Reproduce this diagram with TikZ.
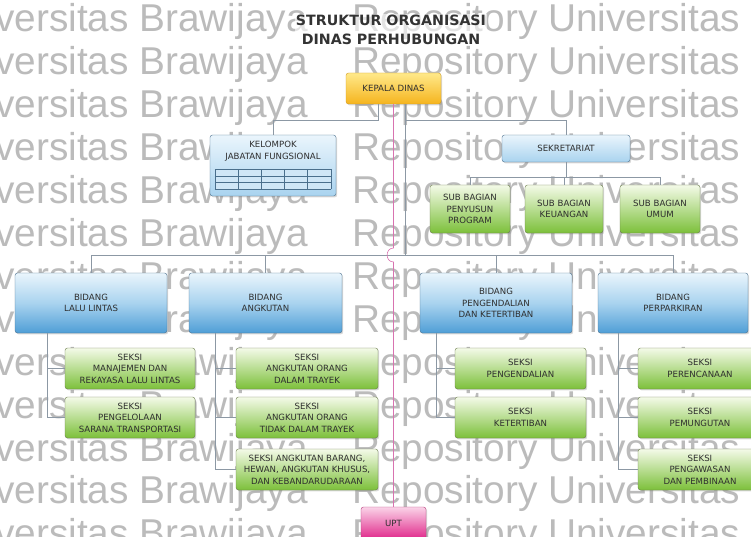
\documentclass[tikz,border=0pt]{standalone}
\usepackage{fontspec}
\setmainfont{DejaVu Sans}
\newfontfamily\wmfont{Liberation Sans}
\usetikzlibrary{shadows}

\definecolor{wmgray}{HTML}{BBBBBB}
\definecolor{linkgray}{HTML}{8C98A4}
\definecolor{pinkline}{HTML}{D873B0}
\definecolor{goldtop}{HTML}{FFE98A}
\definecolor{goldbot}{HTML}{F5B41E}
\definecolor{golddraw}{HTML}{D19A22}
\definecolor{bluetop}{HTML}{EAF5FC}
\definecolor{bluemid}{HTML}{A9D3EF}
\definecolor{bluebot}{HTML}{4F9ED6}
\definecolor{bluedraw}{HTML}{4A6F8C}
\definecolor{greentop}{HTML}{F4FAE8}
\definecolor{greenbot}{HTML}{7CC03A}
\definecolor{greendraw}{HTML}{687A4A}
\definecolor{pinktop}{HTML}{FAD3E8}
\definecolor{pinkbot}{HTML}{E0288A}
\definecolor{pinkdraw}{HTML}{B43A78}
\definecolor{boxtext}{HTML}{2E2E2E}
\definecolor{tblfill}{HTML}{CFE6F6}

\newcommand{\boxfont}{\fontsize{8.6}{11.5}\selectfont}

\begin{document}
\begin{tikzpicture}[
  x=1pt, y=-1pt,
  every node/.style={text=boxtext},
  orgbox/.style={rectangle, rounded corners=2.5pt, align=center, inner sep=2pt,
                 font=\boxfont,
                 drop shadow={opacity=0.3, shadow xshift=1.2pt, shadow yshift=-1.4pt}},
  chief/.style={orgbox, draw=golddraw, top color=goldtop, bottom color=goldbot},
  unit/.style={orgbox, draw=bluedraw, top color=bluetop, bottom color=bluemid},
  field/.style={orgbox, draw=bluedraw, top color=bluetop, bottom color=bluebot,
                middle color=bluemid},
  sect/.style={orgbox, draw=greendraw, top color=greentop, bottom color=greenbot},
  pinkbox/.style={orgbox, draw=pinkdraw, top color=pinktop, bottom color=pinkbot},
  link/.style={draw=linkgray, line width=0.8pt},
  pinkln/.style={draw=pinkline, line width=0.6pt},
  tblline/.style={draw=bluedraw, line width=0.5pt},
  wm/.style={text=wmgray, font=\wmfont\fontsize{38.8}{40}\selectfont, inner sep=0pt}]
\useasboundingbox (0,0) rectangle (751,537);
\clip (0,0) rectangle (751,537);

% watermark rows
\foreach \k in {0,...,12}{
  \node[wm, anchor=base east] (wl\k) at (308,32+42.9*\k) {Universitas Brawijaya};
  \node[wm, anchor=base west] (wr\k) at (352,32+42.9*\k) {Repository Universitas};
}

\node[font=\bfseries\fontsize{14.2}{19}\selectfont, align=center, text=black!80,
      fill=white, fill opacity=0.6, text opacity=1, inner sep=1pt]
  (title) at (391,29.5) {STRUKTUR ORGANISASI\\DINAS PERHUBUNGAN};

% top levels
\node[chief, minimum width=95pt, minimum height=31pt] (kepala) at (393.5,88.5) {KEPALA DINAS};
\node[unit, minimum width=126pt, minimum height=61pt,
      label={[name=kjf, anchor=north, yshift=-3pt, align=center, font=\boxfont]north:KELOMPOK\\JABATAN FUNGSIONAL}]
  (kelompok) at (273,165.5) {};
\node[unit, minimum width=128pt, minimum height=27pt] (sekretariat) at (566,148.5) {SEKRETARIAT};

\begin{scope}[shift={(kelompok.south west)}]
  \fill[tblfill] (5,-7) rectangle (121,-27);
  \foreach \i in {0,...,5} \draw[tblline] (5+23.2*\i,-7) -- (5+23.2*\i,-27);
  \foreach \j in {7,13.7,20.3,27} \draw[tblline] (5,-\j) -- (121,-\j);
\end{scope}

\node[sect, minimum width=80pt, minimum height=48pt] (sbprog) at (470,209) {SUB BAGIAN\\PENYUSUN\\PROGRAM};
\node[sect, minimum width=78pt, minimum height=48pt] (sbkeu) at (564,209) {SUB BAGIAN\\KEUANGAN};
\node[sect, minimum width=80pt, minimum height=48pt] (sbumum) at (660,209) {SUB BAGIAN\\UMUM};

% bidang
\node[field, minimum width=152pt, minimum height=60pt] (bll) at (91,303) {BIDANG\\LALU LINTAS};
\node[field, minimum width=153pt, minimum height=60pt] (bang) at (265.5,303) {BIDANG\\ANGKUTAN};
\node[field, minimum width=152pt, minimum height=60pt] (bpk) at (496,303) {BIDANG\\PENGENDALIAN\\DAN KETERTIBAN};
\node[field, minimum width=150pt, minimum height=60pt] (bpp) at (673,303) {BIDANG\\PERPARKIRAN};

% seksi
\node[sect, minimum width=130pt, minimum height=41pt] (ll1) at (130,368.5) {SEKSI\\MANAJEMEN DAN\\REKAYASA LALU LINTAS};
\node[sect, minimum width=130pt, minimum height=41pt] (ll2) at (130,417.5) {SEKSI\\PENGELOLAAN\\SARANA TRANSPORTASI};
\node[sect, minimum width=142pt, minimum height=41pt] (ang1) at (307,368.5) {SEKSI\\ANGKUTAN ORANG\\DALAM TRAYEK};
\node[sect, minimum width=142pt, minimum height=41pt] (ang2) at (307,417.5) {SEKSI\\ANGKUTAN ORANG\\TIDAK DALAM TRAYEK};
\node[sect, minimum width=142pt, minimum height=41pt] (ang3) at (307,469.5) {SEKSI ANGKUTAN BARANG,\\HEWAN, ANGKUTAN KHUSUS,\\DAN KEBANDARUDARAAN};
\node[sect, minimum width=131pt, minimum height=41pt] (pk1) at (520.5,368.5) {SEKSI\\PENGENDALIAN};
\node[sect, minimum width=131pt, minimum height=41pt] (pk2) at (520.5,417.5) {SEKSI\\KETERTIBAN};
\node[sect, minimum width=124pt, minimum height=41pt] (pp1) at (700,368.5) {SEKSI\\PERENCANAAN};
\node[sect, minimum width=124pt, minimum height=41pt] (pp2) at (700,417.5) {SEKSI\\PEMUNGUTAN};
\node[sect, minimum width=124pt, minimum height=41pt] (pp3) at (700,469.5) {SEKSI\\PENGAWASAN\\DAN PEMBINAAN};

\node[pinkbox, minimum width=65pt, minimum height=32pt] (upt) at (393.5,523) {UPT};

% connectors
\coordinate (jl) at (378,120);
\coordinate (jr) at (405,120);
\coordinate (bus) at (405,255);
\coordinate (sbus) at (564,177);

\draw[link] (kepala.south -| jl) -- (jl) -| (kelompok.north);
\draw[link] (kepala.south -| jr) -- (bus);
\draw[link] (jr) -| (sekretariat.north);
\draw[link] (sekretariat.south) -- (sekretariat.south |- sbus);
\draw[link] (sbprog.north) -- (sbprog.north |- sbus) -- (sbumum.north |- sbus) -- (sbumum.north);
\draw[link] (sbkeu.north) -- (sbkeu.north |- sbus);
\draw[link] (bll.north) -- (bll.north |- bus) -- (bpp.north |- bus) -- (bpp.north);
\draw[link] (bang.north) -- (bang.north |- bus);
\draw[link] (bpk.north) -- (bpk.north |- bus);

\foreach \b/\s/\x/\n in {bll/ll/47/2, bang/ang/215/3, bpk/pk/436/2, bpp/pp/618/3}{
  \draw[link] (\b.south -| \x,0) -- (\s\n.west -| \x,0);
  \foreach \i in {1,...,\n}
    \draw[link] (\s\i.west -| \x,0) -- (\s\i.west);
}

\draw[pinkln] (kepala.south) -- (393.5,248) .. controls (385,248) and (385,262) .. (393.5,262) -- (upt.north);
\end{tikzpicture}
\end{document}
